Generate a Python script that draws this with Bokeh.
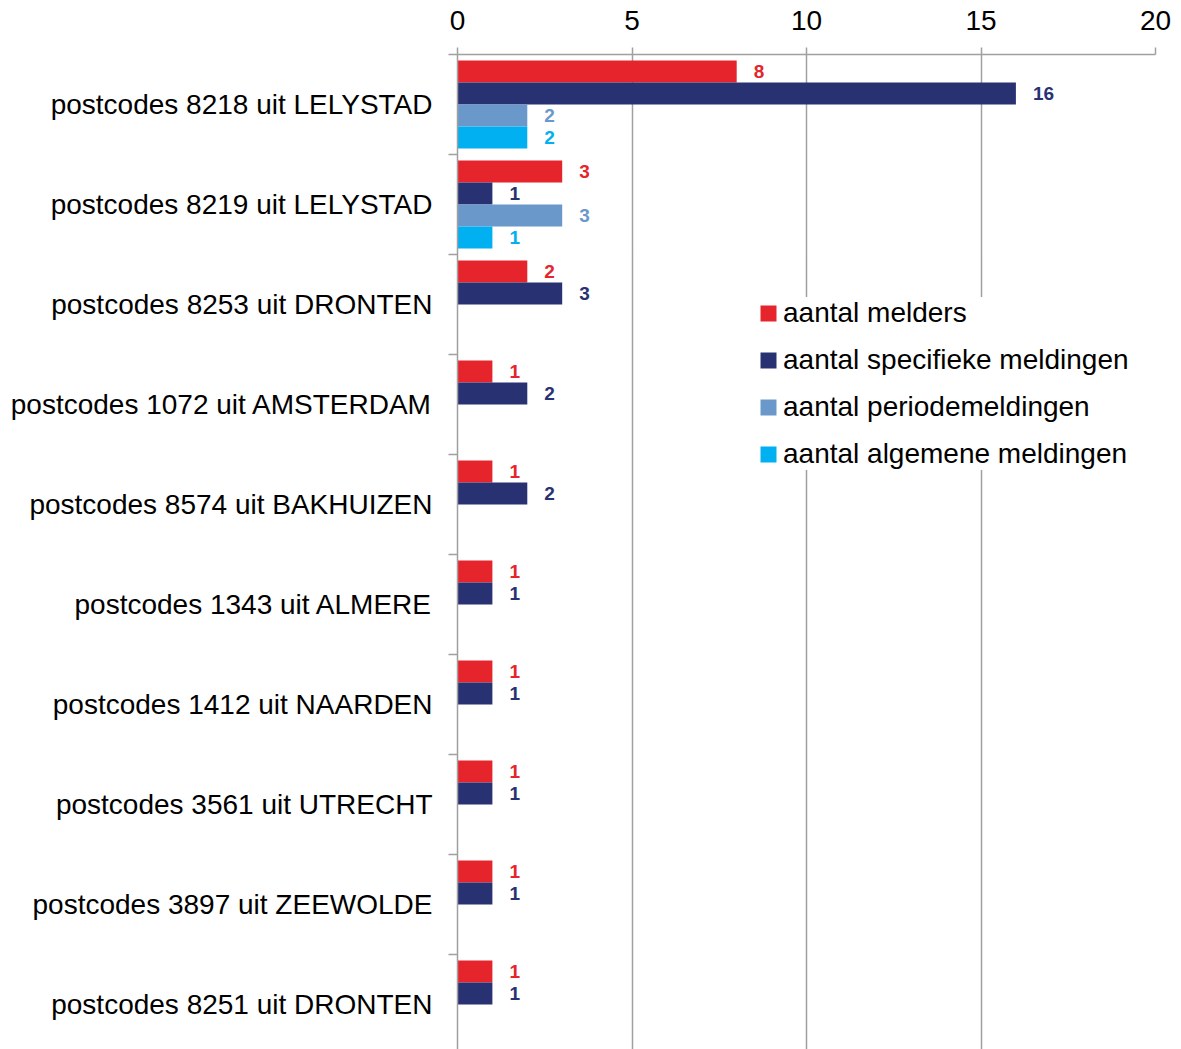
from bokeh.plotting import figure
from bokeh.models import ColumnDataSource, FixedTicker, Range1d, Legend
from bokeh.core.properties import value
from bokeh.embed import file_html
from bokeh.resources import INLINE

categories = [
    "postcodes 8218 uit LELYSTAD",
    "postcodes 8219 uit LELYSTAD",
    "postcodes 8253 uit DRONTEN",
    "postcodes 1072 uit AMSTERDAM",
    "postcodes 8574 uit BAKHUIZEN",
    "postcodes 1343 uit ALMERE",
    "postcodes 1412 uit NAARDEN",
    "postcodes 3561 uit UTRECHT",
    "postcodes 3897 uit ZEEWOLDE",
    "postcodes 8251 uit DRONTEN",
]
series_names = [
    "aantal melders",
    "aantal specifieke meldingen",
    "aantal periodemeldingen",
    "aantal algemene meldingen",
]
melders = [8, 3, 2, 1, 1, 1, 1, 1, 1, 1]
specifieke = [16, 1, 3, 2, 2, 1, 1, 1, 1, 1]
periode = [2, 3, None, None, None, None, None, None, None, None]
algemene = [2, 1, None, None, None, None, None, None, None, None]
x_ticks = [0, 5, 10, 15, 20]

colors = ["#E5242C", "#283273", "#6A98CB", "#00B0F0"]
offsets = [-0.33, -0.11, 0.11, 0.33]
FONT = "Liberation Sans"
GRID = "#A0A0A0"

p = figure(
    width=1181, height=1049,
    x_range=Range1d(0, 20), y_range=Range1d(9.45, -0.5),
    x_axis_location="above",
    output_backend="svg", toolbar_location=None,
    min_border_left=457, min_border_right=26, min_border_top=54, min_border_bottom=0,
)
p.outline_line_color = None
p.ygrid.visible = False
p.xgrid.ticker = FixedTicker(ticks=x_ticks)
p.xgrid.grid_line_color = GRID
p.xgrid.grid_line_width = 1.5

legend_items = []
for name, vals, col, off in zip(series_names, [melders, specifieke, periode, algemene], colors, offsets):
    xs, ys, ts = [], [], []
    for i, v in enumerate(vals):
        if v is None:
            continue
        xs.append(v)
        ys.append(i + off)
        ts.append(str(v))
    src = ColumnDataSource(dict(x=xs, y=ys, t=ts))
    r = p.hbar(y="y", right="x", left=0, height=0.22, source=src,
               fill_color=col, line_color=None)
    p.text(x="x", y="y", text="t", source=src, x_offset=17,
           text_align="left", text_baseline="middle",
           text_font=value(FONT), text_font_style="bold",
           text_font_size="19px", text_color=col)
    legend_items.append((name, [r]))

# top axis
xa = p.xaxis[0]
xa.ticker = FixedTicker(ticks=x_ticks)
xa.major_label_text_font = FONT
xa.major_label_text_font_size = "28px"
xa.major_label_text_color = "#000000"
xa.axis_line_color = GRID
xa.axis_line_width = 1.5
xa.major_tick_line_color = GRID
xa.major_tick_line_width = 1.5
xa.major_tick_out = 7
xa.major_tick_in = 0
xa.minor_tick_line_color = None
xa.major_label_standoff = 18

# left axis
ya = p.yaxis[0]
ya.ticker = FixedTicker(ticks=list(range(len(categories))),
                        minor_ticks=[i - 0.5 for i in range(len(categories) + 1)])
ya.major_label_overrides = {i: c for i, c in enumerate(categories)}
ya.major_label_text_font = FONT
ya.major_label_text_font_size = "28px"
ya.major_label_text_color = "#000000"
ya.axis_line_color = GRID
ya.axis_line_width = 1.5
ya.major_tick_line_color = None
ya.major_tick_out = 0
ya.major_tick_in = 0
ya.minor_tick_line_color = GRID
ya.minor_tick_line_width = 1.5
ya.minor_tick_out = 9
ya.minor_tick_in = 0
ya.major_label_standoff = 16

legend = Legend(items=legend_items, location=(301, 579))
legend.label_text_font = FONT
legend.label_text_font_size = "28px"
legend.label_text_color = "#000000"
legend.glyph_width = 20
legend.glyph_height = 20
legend.label_height = 31
legend.label_standoff = 5
legend.spacing = 15
legend.padding = 10
legend.margin = 0
legend.border_line_color = None
legend.background_fill_color = "white"
legend.background_fill_alpha = 1.0
p.add_layout(legend)

open("out.html", "w").write(file_html(p, INLINE))
